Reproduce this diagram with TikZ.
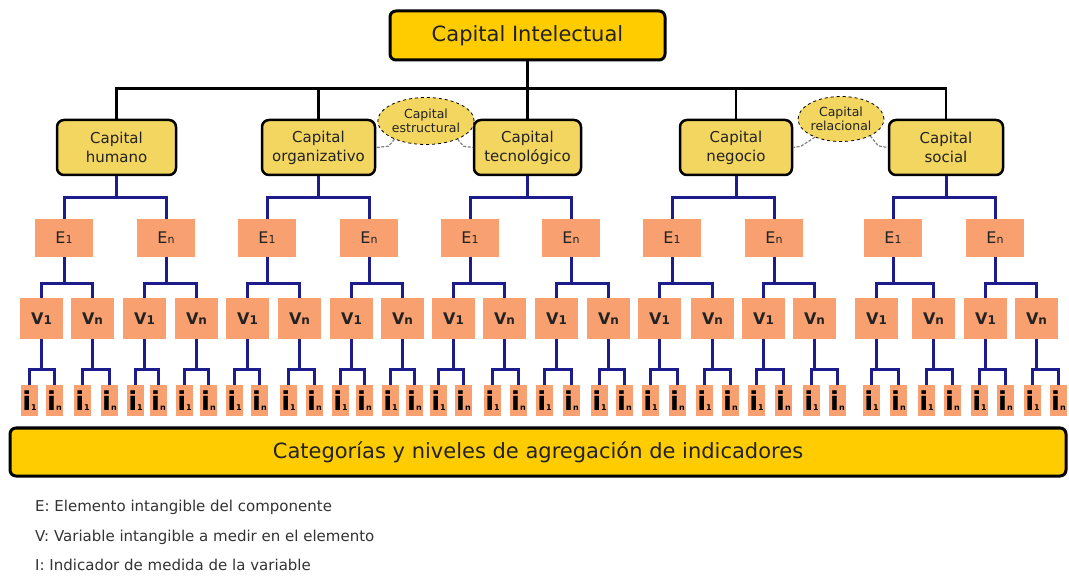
\documentclass[tikz,border=0pt]{standalone}
\usepackage{fontspec}
\setmainfont{DejaVu Sans}
\usetikzlibrary{shapes.geometric}

\definecolor{gold}{HTML}{FFCC00}
\definecolor{pale}{HTML}{F3D660}
\definecolor{salmon}{HTML}{F8A070}
\definecolor{navy}{HTML}{1C1C8C}
\definecolor{ink}{HTML}{222222}
\definecolor{legendgray}{HTML}{333333}

% label helpers
\newcommand{\elab}[1]{E{\fontsize{11}{11}\selectfont #1}}
\newcommand{\vlab}[1]{V{\fontsize{12}{12}\selectfont #1}}
\newcommand{\ilab}[1]{{\fontsize{26}{26}\selectfont\bfseries i}{\fontsize{8}{8}\selectfont\bfseries #1}}

\begin{document}
\begin{tikzpicture}[x=1pt,y=-1pt,
  mainbox/.style={draw=black, line width=3pt, rounded corners=6pt, fill=gold,
    minimum height=49pt, inner sep=0pt, text=ink, font=\fontsize{21}{21}\selectfont},
  compbox/.style={draw=black, line width=2.5pt, rounded corners=7pt, fill=pale,
    minimum height=55pt, inner sep=0pt, align=center, text=ink,
    font=\fontsize{15}{19}\selectfont},
  cloudbox/.style={ellipse, draw=black, dashed, line width=0.8pt, fill=pale,
    inner sep=0pt, align=center, text=ink, font=\fontsize{12.5}{14}\selectfont},
  ebox/.style={fill=salmon, minimum width=58pt, minimum height=38pt, inner sep=0pt,
    text=ink, font=\fontsize{16}{16}\selectfont},
  vbox/.style={fill=salmon, minimum width=43pt, minimum height=41pt, inner sep=0pt,
    text=ink, font=\bfseries\fontsize{16}{16}\selectfont},
  ibox/.style={fill=salmon, minimum width=17pt, minimum height=31pt, inner sep=0pt,
    text=black},
  trunk/.style={line width=2.5pt, black},
  blu/.style={line width=3pt, navy},
  tie/.style={gray, line width=1.2pt, dash pattern=on 3pt off 1.5pt}
]
\fill[white] (0,0) rectangle (1069,577);
\useasboundingbox (0,0) rectangle (1069,577);

% root
\node[mainbox, minimum width=275pt] (ci) at (527.5,35.5) {Capital Intelectual};

% components
\node[compbox, minimum width=119pt] (hum) at (116.5,147.5) {Capital\\humano};
\node[compbox, minimum width=113pt] (org) at (318.5,147.5) {Capital\\organizativo};
\node[compbox, minimum width=107pt] (tec) at (527.5,147.5) {Capital\\tecnológico};
\node[compbox, minimum width=112pt] (neg) at (736,147.5) {Capital\\negocio};
\node[compbox, minimum width=114pt] (soc) at (946,147.5) {Capital\\social};

% grouping clouds
\node[cloudbox, minimum width=91pt, minimum height=47pt] (est) at (426,121) {Capital\\estructural};
\node[cloudbox, minimum width=83pt, minimum height=45pt] (rel) at (841,119) {Capital\\relacional};
\draw[tie] (est.210) -- ++(-6,7) -- (org.east);
\draw[tie] (est.330) -- ++(6,7) -- (tec.west);
\draw[tie] (rel.215) -- ++(-14,9) -- (neg.east);
\draw[tie] (rel.330) -- ++(8,10) -- (soc.west);

% root to components
\draw[trunk] (ci.south) -- (tec.north);
\draw[trunk] (hum.north) -- ++(0,-30) -| (soc.north);
\draw[trunk] (org.north) -- ++(0,-30);
\draw[trunk] (neg.north) -- ++(0,-30);

% elements
\foreach \x/\s [count=\k] in {64/1,166/n,267/1,369/n,470/1,571/n,672/1,774/n,893/1,995/n}
  \node[ebox] (e\k) at (\x,238) {\elab{\s}};

% variables
\foreach \x/\s [count=\k] in {20/1,71/n,123/1,175/n,226/1,278/n,330/1,381/n,432/1,483/n,
    535/1,587/n,638/1,691/n,742/1,793/n,855/1,912/n,964/1,1015/n}
  \node[vbox] (v\k) at (\x+21.5,318.5) {\vlab{\s}};

% indicators
\foreach \x/\s [count=\k] in {21/1,46/n,74/1,101/n,127/1,150/n,176/1,200/n,226/1,251/n,
    280/1,306/n,332/1,356/n,382/1,406/n,430/1,455/n,484/1,510/n,
    536/1,563/n,591/1,616/n,642/1,669/n,696/1,722/n,748/1,775/n,
    803/1,829/n,863/1,890/n,918/1,944/n,971/1,997/n,1024/1,1050/n}
  \node[ibox] (i\k) at (\x+8.5,400.5) {\ilab{\s}};

% components to elements
\foreach \p [count=\j] in {hum,org,tec,neg,soc}{
  \pgfmathtruncatemacro\a{2*\j-1}
  \pgfmathtruncatemacro\b{2*\j}
  \draw[blu] (\p.south) -- ++(0,21) coordinate (m);
  \draw[blu] (e\a.north) |- (m) -| (e\b.north);
}

% elements to variables
\foreach \j in {1,...,10}{
  \pgfmathtruncatemacro\a{2*\j-1}
  \pgfmathtruncatemacro\b{2*\j}
  \draw[blu] (e\j.south) -- ++(0,26) coordinate (m);
  \draw[blu] (v\a.north) |- (m) -| (v\b.north);
}

% variables to indicators
\foreach \j in {1,...,20}{
  \pgfmathtruncatemacro\a{2*\j-1}
  \pgfmathtruncatemacro\b{2*\j}
  \draw[blu] (v\j.south) -- ++(0,30) coordinate (m);
  \draw[blu] (i\a.north) |- (m) -| (i\b.north);
}

% summary bar
\node[mainbox, minimum width=1056pt, minimum height=48pt] (cat) at (538,452)
  {Categorías y niveles de agregación de indicadores};

% legend
\begin{scope}[every node/.style={anchor=base west, inner sep=0pt, text=legendgray,
    font=\fontsize{15}{15}\selectfont}]
  \node (l1) at (35,511) {E: Elemento intangible del componente};
  \node (l2) at (35,541) {V: Variable intangible a medir en el elemento};
  \node (l3) at (35,570) {I: Indicador de medida de la variable};
\end{scope}
\end{tikzpicture}
\end{document}
